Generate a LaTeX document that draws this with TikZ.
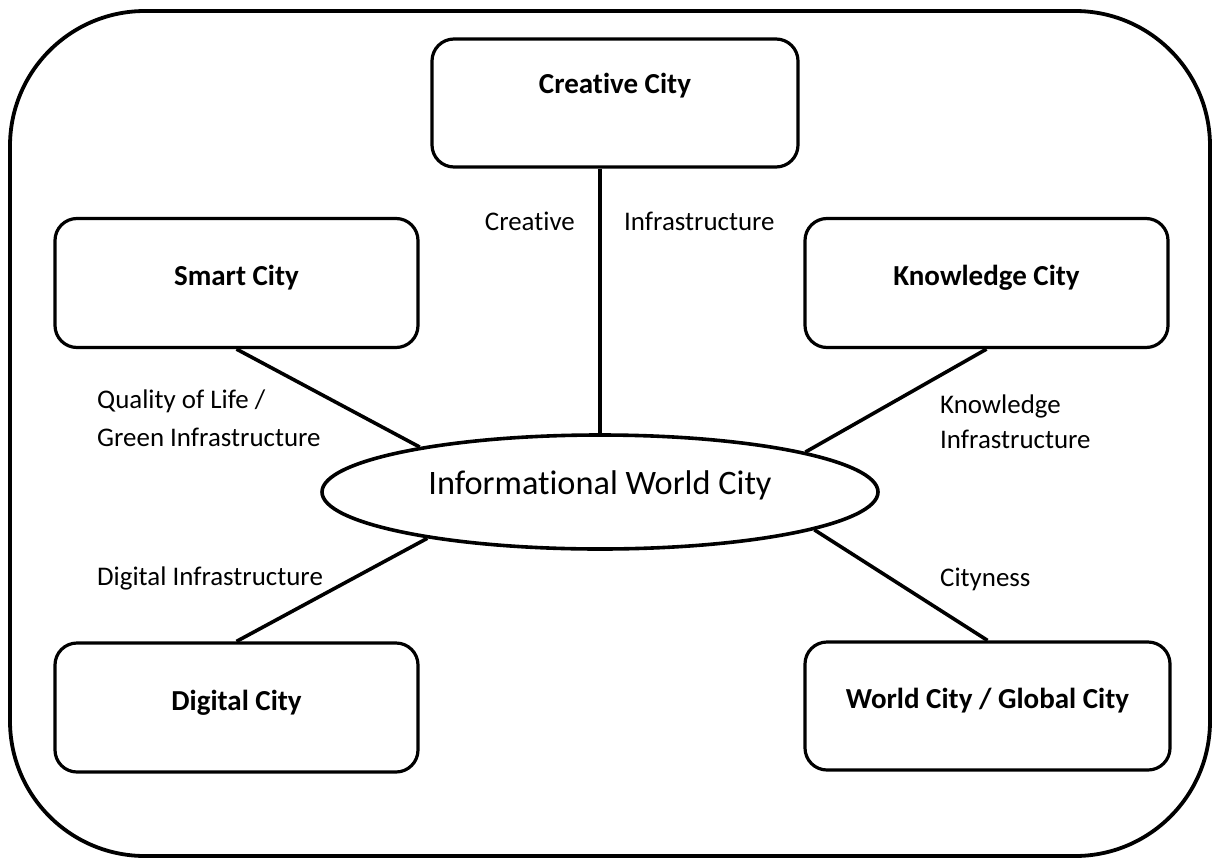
\documentclass[tikz,border=0pt]{standalone}
\usepackage{fontspec}
\setmainfont{Carlito}[Ligatures=NoCommon]
\usepackage{tikz}
\usetikzlibrary{shapes}

\begin{document}
\begin{tikzpicture}
        [x=1pt,y=-1pt,
        city/.style={rectangle,rounded corners=22pt,draw=black,line width=3.2pt,minimum width=363pt,minimum height=129pt,inner sep=0pt,text centered,font=\fontsize{29}{35}\selectfont\bfseries},
        hub/.style={ellipse,draw=black,line width=3.6pt,minimum width=556pt,minimum height=114pt,inner sep=0pt,text centered,font=\fontsize{34.3}{41}\selectfont},
        tie/.style={-,line width=3.6pt},
        note/.style={anchor=base west,inner sep=0pt,font=\fontsize{26.9}{32}\selectfont},
        text height=1.75ex, text depth=.5ex]

\useasboundingbox (0,0) rectangle (1214,859);

% frame
\draw[line width=3.8pt,rounded corners=135pt] (10,11) rectangle (1210,856);

\begin{scope}

% cities
\node[city,minimum width=366pt,minimum height=128pt,text depth=26.8pt] at (615,103) (creative) {Creative City};

\node[city] at (236.5,283) (smart) {Smart City};

\node[city] at (986.5,283) (knowledge) {Knowledge City};

\node[city] at (236.5,707.5) (digital) {Digital City};

\node[city,minimum width=365pt,minimum height=128pt,text depth=3pt] at (987.5,706) (global) {World City / Global City};

\node[hub] at (600,492) (informational) {Informational World City};

%links
\draw[tie] (creative.south -| informational.north) -- (informational.north);
\draw[tie] (smart.south) -- (informational.166);
\draw[tie] (knowledge.south) -- (informational.11);
\draw[tie] (digital.north) -- (informational.195);
\draw[tie] (global.north) -- (informational.350);

%labels
\node[note,anchor=base east] at (575,230) (creativeword) {Creative};
\node[note] at (624,230) (creativeinfra) {Infrastructure};
\node[note] at (97,408) (quality) {Quality of Life /};
\node[note] at (97,446) (green) {Green Infrastructure};
\node[note] at (940,413) (knowledgeword) {Knowledge};
\node[note] at (940,448) (knowledgeinfra) {Infrastructure};
\node[note] at (97,585) (digitalinfra) {Digital Infrastructure};
\node[note] at (940,586) (cityness) {Cityness};

\end{scope}

\end{tikzpicture}
\end{document}
